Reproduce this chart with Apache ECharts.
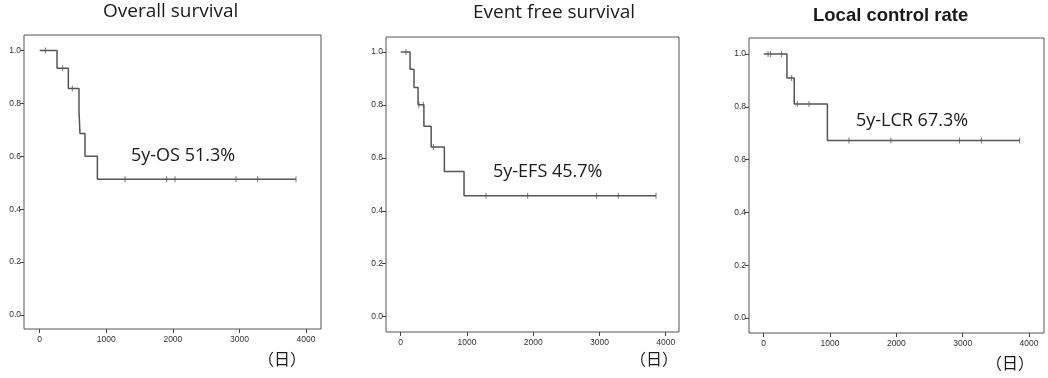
<!DOCTYPE html>
<html>
<head>
<meta charset="utf-8">
<script src="https://cdn.jsdelivr.net/npm/echarts@6/dist/echarts.min.js"></script>
<style>
  html, body { margin: 0; padding: 0; background: #fff; }
  #chart { width: 1048px; height: 378px; }
</style>
</head>
<body>
<div id="chart"></div>
<script>
// x tick labels (days) and y tick labels (survival proportion)
const dayTicks = [0, 1000, 2000, 3000, 4000]
const rateTicks = [0, 0.2, 0.4, 0.6, 0.8, 1.0]

// Overall survival
const osTimes = [0, 260, 430, 590, 605, 680, 866, 3850]
const osRates = [1.0, 0.933, 0.857, 0.771, 0.686, 0.600, 0.513, 0.513]
const osCensorTimes = [85, 345, 490, 1282, 1907, 2032, 2949, 3274, 3850]
const osCensorRates = [1.0, 0.933, 0.857, 0.513, 0.513, 0.513, 0.513, 0.513, 0.513]

// Event free survival
const efsTimes = [0, 141, 201, 262, 350, 460, 659, 956, 3854]
const efsRates = [1.0, 0.935, 0.866, 0.801, 0.720, 0.641, 0.549, 0.457, 0.457]
const efsCensorTimes = [80, 276, 341, 493, 1288, 1917, 2958, 3285, 3854]
const efsCensorRates = [1.0, 0.801, 0.801, 0.641, 0.457, 0.457, 0.457, 0.457, 0.457]

// Local control rate
const lcrTimes = [0, 350, 460, 960, 3859]
const lcrRates = [1.0, 0.909, 0.811, 0.673, 0.673]
const lcrCensorTimes = [65, 100, 270, 421, 506, 682, 1285, 1917, 2951, 3282, 3859]
const lcrCensorRates = [1.0, 1.0, 1.0, 0.909, 0.811, 0.811, 0.673, 0.673, 0.673, 0.673, 0.673]

const panels = [
  { times: osTimes, rates: osRates, cTimes: osCensorTimes, cRates: osCensorRates,
    box: { left: 24, top: 35, width: 297, height: 294 }, x: [-236, 4225], y: [-0.053, 1.059] },
  { times: efsTimes, rates: efsRates, cTimes: efsCensorTimes, cRates: efsCensorRates,
    box: { left: 386, top: 37, width: 293, height: 295 }, x: [-222, 4201], y: [-0.058, 1.057] },
  { times: lcrTimes, rates: lcrRates, cTimes: lcrCensorTimes, cRates: lcrCensorRates,
    box: { left: 749, top: 38, width: 295, height: 295 }, x: [-222, 4226], y: [-0.057, 1.061] }
]

const lineColor = '#555'
const tickFont = { fontFamily: 'Liberation Sans', fontSize: 8.5, color: '#333' }

const chart = echarts.init(document.getElementById('chart'))

const grid = []
const xAxis = []
const yAxis = []
const series = []

panels.forEach((p, i) => {
  grid.push({
    ...p.box,
    show: true,
    backgroundColor: '#fff',
    borderColor: '#555',
    borderWidth: 1
  })
  xAxis.push({
    type: 'value',
    gridIndex: i,
    min: p.x[0],
    max: p.x[1],
    axisLine: { show: false, onZero: false },
    axisTick: { show: true, length: 4, customValues: dayTicks, lineStyle: { color: '#444' } },
    axisLabel: { ...tickFont, margin: 6, customValues: dayTicks, formatter: v => String(v) },
    splitLine: { show: false }
  })
  yAxis.push({
    type: 'value',
    gridIndex: i,
    min: p.y[0],
    max: p.y[1],
    axisLine: { show: false, onZero: false },
    axisTick: { show: true, length: 4, customValues: rateTicks, lineStyle: { color: '#444' } },
    axisLabel: { ...tickFont, margin: 3, customValues: rateTicks, formatter: v => v.toFixed(1) },
    splitLine: { show: false }
  })
  series.push({
    type: 'line',
    xAxisIndex: i,
    yAxisIndex: i,
    step: 'end',
    showSymbol: false,
    silent: true,
    data: p.times.map((t, k) => [t, p.rates[k]]),
    lineStyle: { color: lineColor, width: 1.5 }
  })
  series.push({
    type: 'scatter',
    xAxisIndex: i,
    yAxisIndex: i,
    symbol: 'rect',
    symbolSize: [1, 6],
    silent: true,
    data: p.cTimes.map((t, k) => [t, p.cRates[k]]),
    itemStyle: { color: lineColor }
  })
})

const titleStyle = { fontFamily: 'Open Sans', fontSize: 19, fill: '#1a1a1a' }
const noteStyle = { fontFamily: 'Open Sans', fontSize: 18, fill: '#1a1a1a' }
const dayStyle = { fontFamily: 'Noto Sans CJK JP', fontSize: 16, fill: '#1a1a1a' }

chart.setOption({
  animation: false,
  grid: grid,
  xAxis: xAxis,
  yAxis: yAxis,
  series: series,
  graphic: [
    { type: 'text', left: 103, top: 2, style: { ...titleStyle, text: 'Overall survival' } },
    { type: 'text', left: 473, top: 3, style: { ...titleStyle, text: 'Event free survival' } },
    { type: 'text', left: 813, top: 6,
      style: { fontFamily: 'Liberation Sans', fontSize: 18.5, fontWeight: 'bold', fill: '#1a1a1a', text: 'Local control rate' } },
    { type: 'text', left: 131, top: 147, style: { ...noteStyle, text: '5y-OS 51.3%' } },
    { type: 'text', left: 493, top: 163, style: { ...noteStyle, text: '5y-EFS 45.7%' } },
    { type: 'text', left: 856, top: 112, style: { ...noteStyle, text: '5y-LCR 67.3%' } },
    { type: 'text', left: 258, top: 351, style: { ...dayStyle, text: '（日）' } },
    { type: 'text', left: 630, top: 351, style: { ...dayStyle, text: '（日）' } },
    { type: 'text', left: 986, top: 355, style: { ...dayStyle, text: '（日）' } }
  ]
})

window.addEventListener('resize', () => {
  chart.resize()
})
</script>
</body>
</html>
